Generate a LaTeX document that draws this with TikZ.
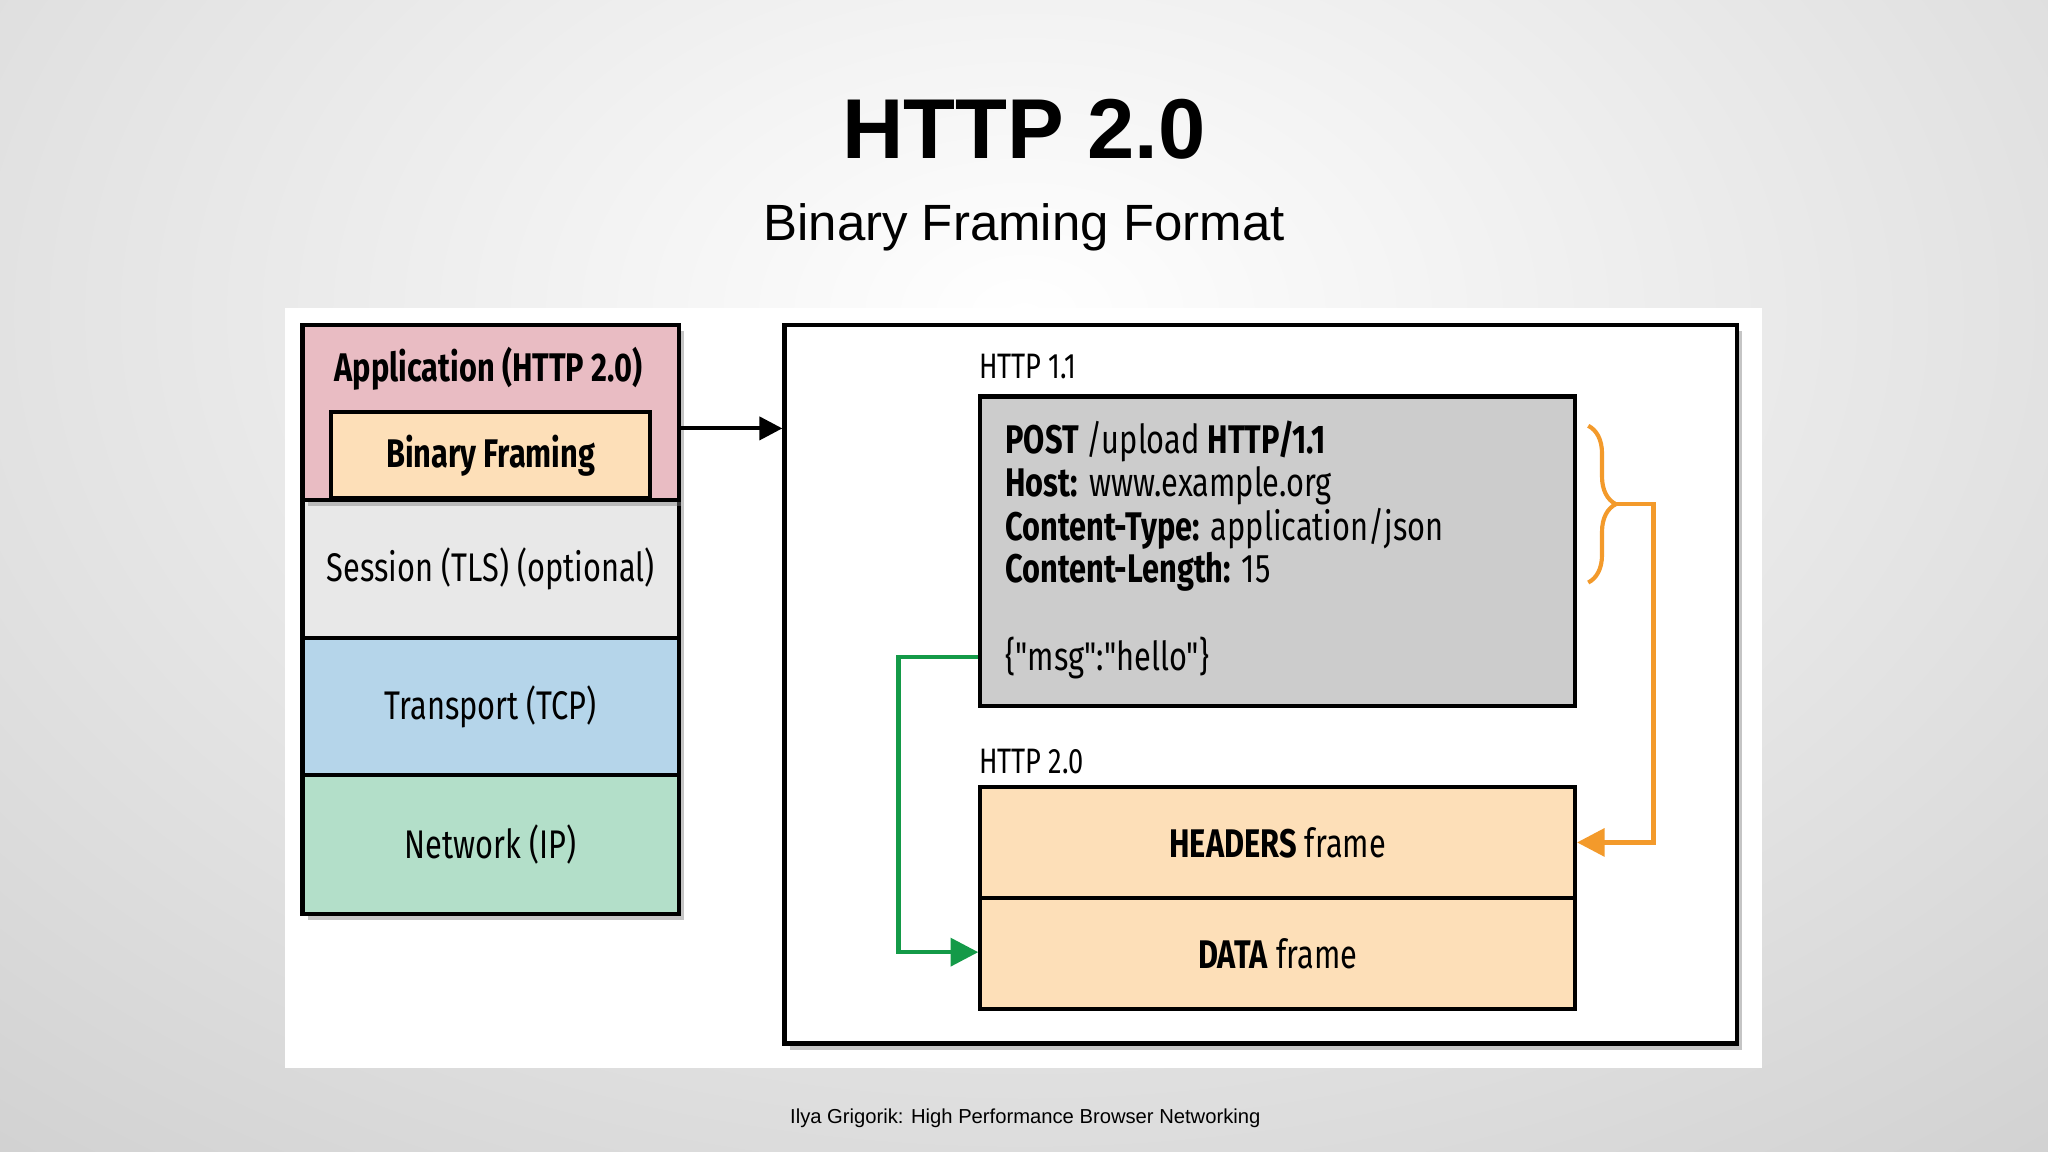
\documentclass[tikz,border=0pt]{standalone}
\usepackage{fontspec}
\setmainfont{Liberation Sans}
\newfontfamily\cond[FakeStretch=0.77]{Fira Sans}
\usetikzlibrary{shadows,arrows.meta,decorations.pathreplacing}
\definecolor{pinkc}{HTML}{E9BCC3}
\definecolor{peach}{HTML}{FDDFB8}
\definecolor{sess}{HTML}{E8E8E8}
\definecolor{bluec}{HTML}{B5D5EA}
\definecolor{greenc}{HTML}{B3DFC9}
\definecolor{grayc}{HTML}{CCCCCC}
\definecolor{orng}{HTML}{F39A2B}
\definecolor{grn}{HTML}{149A48}
\tikzset{
 layer/.style={draw=black,line width=0.9pt,font=\cond\fontsize{8.7pt}{10pt}\selectfont},
 shad/.style={drop shadow={shadow xshift=0.04cm,shadow yshift=-0.05cm,opacity=0.45}},
 lbl/.style={font=\cond\fontsize{7.7pt}{9pt}\selectfont,anchor=west,inner sep=0}
}
\begin{document}
\begin{tikzpicture}[x=0.01cm,y=-0.01cm]
\useasboundingbox (0,0) rectangle (1568,882);
\shade[inner color=white,outer color=black!20] (-600,-700) rectangle (2168,1182);
\node[font=\bfseries\fontsize{18.5pt}{20pt}\selectfont,inner sep=0] (t) at (784,121) [anchor=base] {HTTP 2.0};
\node[font=\fontsize{11.1pt}{12pt}\selectfont,inner sep=0] (st) at (784,184) [anchor=base] {Binary Framing Format};
\fill[white] (218,236) rectangle (1349,818);
% left stack
\node[layer,fill=sess,shad,minimum width=2.88cm,minimum height=1.06cm,anchor=north west] (ses) at (230,381) {Session (TLS) (optional)};
\node[layer,fill=bluec,shad,minimum width=2.88cm,minimum height=1.05cm,anchor=north west] (tcp) at (230,487) {Transport (TCP)};
\node[layer,fill=greenc,shad,minimum width=2.88cm,minimum height=1.06cm,anchor=north west] (ip) at (230,592) {Network (IP)};
\node[layer,fill=pinkc,shad,minimum width=2.88cm,minimum height=1.34cm,anchor=north west,inner sep=0] (app2) at (230,247) {};
\node[font=\cond\bfseries\fontsize{8.7pt}{10pt}\selectfont,inner sep=0] (apptxt) at (374,282) {Application (HTTP 2.0)};
\node[layer,fill=peach,minimum width=2.44cm,minimum height=0.66cm,anchor=north west,font=\cond\bfseries\fontsize{8.7pt}{10pt}\selectfont] (bf) at (252,314) {Binary Framing};
% right box
\node[draw=black,line width=0.9pt,fill=white,shad,minimum width=7.29cm,minimum height=5.5cm,anchor=north west] (rb) at (599,247) {};
\coordinate (ain) at (599,328);
\draw[line width=0.9pt,-{Triangle[length=5pt,width=5pt]}] (app2.east|-ain) -- (ain);
\node[lbl] (h11) at (749,281) {HTTP 1.1};
\node[draw=black,line width=0.9pt,fill=grayc,minimum width=4.55cm,minimum height=2.37cm,anchor=north west] (req) at (749,302) {};
\begin{scope}[every node/.style={lbl,font=\cond\fontsize{8.7pt}{10pt}\selectfont}]
\node (l1) at (769,338) {\textbf{POST} /upload \textbf{HTTP/1.1}};
\node (l2) at (769,372) {\textbf{Host:} www.example.org};
\node (l3) at (769,405) {\textbf{Content-Type:} application/json};
\node (l4) at (769,438) {\textbf{Content-Length:} 15};
\node (l5) at (769,504) {\{"msg":"hello"\}};
\end{scope}
\node[lbl] (h20) at (749,583) {HTTP 2.0};
\node[layer,fill=peach,minimum width=4.55cm,minimum height=0.85cm,anchor=north west] (hf) at (749,601) {\textbf{HEADERS} frame};
\node[layer,fill=peach,minimum width=4.55cm,minimum height=0.85cm,anchor=north west] (df) at (749,686) {\textbf{DATA} frame};
% brace
\draw[orng,line width=0.9pt,decorate,decoration={brace,amplitude=6}] (1216,326) -- (1216,446);
\coordinate (bt) at (1236,386);
\draw[orng,line width=1pt,-{Triangle[length=6pt,width=6pt]}] (bt) -- (1266,386) -- (1266,645) -- (hf.east|-0,645);
\coordinate (gs) at (688,503);
\draw[grn,line width=1pt,-{Triangle[length=6pt,width=6pt]}] (req.west|-gs) -- (gs) -- (688,729) -- (df.west|-0,729);
\node[font=\fontsize{4.4pt}{5pt}\selectfont,inner sep=0] (foot) at (785,856) {Ilya Grigorik: High Performance Browser Networking};
\end{tikzpicture}
\end{document}
